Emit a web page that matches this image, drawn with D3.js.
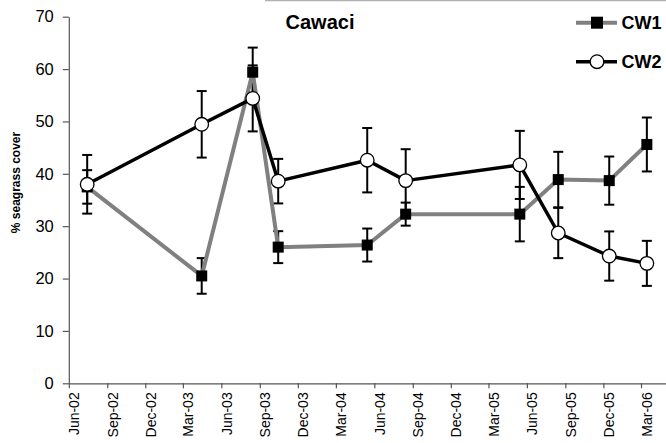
<!DOCTYPE html>
<html>
<head>
<meta charset="utf-8">
<script src="https://cdn.jsdelivr.net/npm/d3@7"></script>
<style>
  html, body { margin: 0; padding: 0; background: #fff; }
  svg { display: block; font-family: Arial, "Liberation Sans", sans-serif; }
</style>
</head>
<body>
<svg id="chart" width="666" height="443"></svg>
<script>
// ---- data ----
const dates = ["2002-07-15","2003-04-15","2003-08-15","2003-10-15","2004-05-15","2004-08-15","2005-05-15","2005-08-15","2005-12-15","2006-03-15"];
const cw1 = [37.5, 20.5, 59.4, 26.0, 26.4, 32.3, 32.3, 38.9, 38.7, 45.6];
const cw1Err = [3.2, 3.4, 4.7, 3.05, 3.15, 2.2, 5.2, 5.3, 4.6, 5.15];
const cw2 = [38.0, 49.45, 54.4, 38.6, 42.6, 38.7, 41.7, 28.7, 24.3, 22.9];
const cw2Err = [5.6, 6.35, 6.3, 4.25, 6.15, 6.0, 6.5, 4.8, 4.7, 4.3];
const yTicks = [0, 10, 20, 30, 40, 50, 60, 70];
const xTickLabels = ["Jun-02","Sep-02","Dec-02","Mar-03","Jun-03","Sep-03","Dec-03","Mar-04","Jun-04","Sep-04","Dec-04","Mar-05","Jun-05","Sep-05","Dec-05","Mar-06"];
const seriesNames = ["CW1", "CW2"];
const title = "Cawaci";
const yTitle = "% seagrass cover";

const parse = d3.timeParse("%Y-%m-%d");
const pts = dates.map(parse);

const svg = d3.select("#chart");
const x0 = 68.8, x1 = 666.5, yTop = 16.7, yBot = 383.3;

const x = d3.scaleTime()
  .domain([parse("2002-06-01"), parse("2006-05-01")])
  .range([x0, x1]);
const y = d3.scaleLinear().domain([0, 70]).range([yBot, yTop]);

const tickDates = d3.timeMonth.range(parse("2002-06-01"), parse("2006-03-02"), 3);

// top faint border
svg.append("line").attr("x1", 265).attr("x2", 666).attr("y1", 0.5).attr("y2", 0.5)
  .attr("stroke", "#b0b0b0").attr("stroke-width", 1.5);

// y axis
const yAxis = svg.append("g").attr("transform", `translate(${x0},0)`)
  .call(d3.axisLeft(y).tickValues(yTicks).tickSize(6).tickSizeOuter(0).tickPadding(9));
yAxis.select(".domain").attr("stroke", "#555").attr("stroke-width", 1.2);
yAxis.selectAll(".tick line").attr("stroke", "#555").attr("stroke-width", 1.2);
yAxis.selectAll("text").attr("font-size", 16.5).attr("fill", "#000")
  .attr("font-family", "Arial, 'Liberation Sans', sans-serif");

// x axis
const xAxis = svg.append("g").attr("transform", `translate(0,${yBot})`)
  .call(d3.axisBottom(x).tickValues(tickDates).tickFormat((d, i) => xTickLabels[i]).tickSize(5).tickSizeOuter(0));
xAxis.select(".domain").attr("stroke", "#555").attr("stroke-width", 1.2);
xAxis.selectAll(".tick line").attr("stroke", "#555").attr("stroke-width", 1.2);
xAxis.selectAll("text")
  .attr("font-size", 14).attr("fill", "#000")
  .attr("font-family", "Arial, 'Liberation Sans', sans-serif")
  .attr("text-anchor", "end")
  .attr("dy", null).attr("y", null)
  .attr("transform", "translate(10,9) rotate(-90)");

// y title
svg.append("text").attr("transform", `translate(19.5,182.5) rotate(-90)`)
  .attr("text-anchor", "middle").attr("font-size", 12).attr("font-weight", "bold")
  .text(yTitle);

// title
svg.append("text").attr("x", 320).attr("y", 29).attr("text-anchor", "middle")
  .attr("font-size", 20).attr("font-weight", "bold").text(title);

// error bars
function errBars(vals, errs) {
  const g = svg.append("g").attr("stroke", "#000").attr("stroke-width", 2);
  vals.forEach((v, i) => {
    const cx = x(pts[i]);
    g.append("line").attr("x1", cx).attr("x2", cx).attr("y1", y(v + errs[i])).attr("y2", y(v - errs[i]));
    [v + errs[i], v - errs[i]].forEach(e => {
      g.append("line").attr("x1", cx - 5).attr("x2", cx + 5).attr("y1", y(e)).attr("y2", y(e));
    });
  });
}
errBars(cw1, cw1Err);
errBars(cw2, cw2Err);

const line = d3.line().x((d, i) => x(pts[i])).y(d => y(d));

// CW1
svg.append("path").datum(cw1).attr("d", line).attr("fill", "none")
  .attr("stroke", "#808080").attr("stroke-width", 4).attr("stroke-linejoin", "round");
svg.append("g").selectAll("rect").data(cw1).join("rect")
  .attr("x", (d, i) => x(pts[i]) - 5.5).attr("y", d => y(d) - 5.5)
  .attr("width", 11).attr("height", 11).attr("fill", "#000");

// CW2
svg.append("path").datum(cw2).attr("d", line).attr("fill", "none")
  .attr("stroke", "#000").attr("stroke-width", 3.5).attr("stroke-linejoin", "round");
svg.append("g").selectAll("circle").data(cw2).join("circle")
  .attr("cx", (d, i) => x(pts[i])).attr("cy", d => y(d)).attr("r", 6.8)
  .attr("fill", "#fff").attr("stroke", "#000").attr("stroke-width", 1.3);

// legend
const lg = svg.append("g");
const legY = [22.7, 61.7];
lg.append("line").attr("x1", 576).attr("x2", 617).attr("y1", legY[0]).attr("y2", legY[0])
  .attr("stroke", "#808080").attr("stroke-width", 4);
lg.append("rect").attr("x", 597 - 6).attr("y", legY[0] - 6).attr("width", 12).attr("height", 12).attr("fill", "#000");
lg.append("line").attr("x1", 576).attr("x2", 617).attr("y1", legY[1]).attr("y2", legY[1])
  .attr("stroke", "#000").attr("stroke-width", 3.5);
lg.append("circle").attr("cx", 597).attr("cy", legY[1]).attr("r", 6.8)
  .attr("fill", "#fff").attr("stroke", "#000").attr("stroke-width", 1.3);
seriesNames.forEach((s, i) => {
  lg.append("text").attr("x", 621.5).attr("y", legY[i] + 6.5)
    .attr("font-size", 18).attr("font-weight", "bold").text(s);
});
</script>
</body>
</html>
